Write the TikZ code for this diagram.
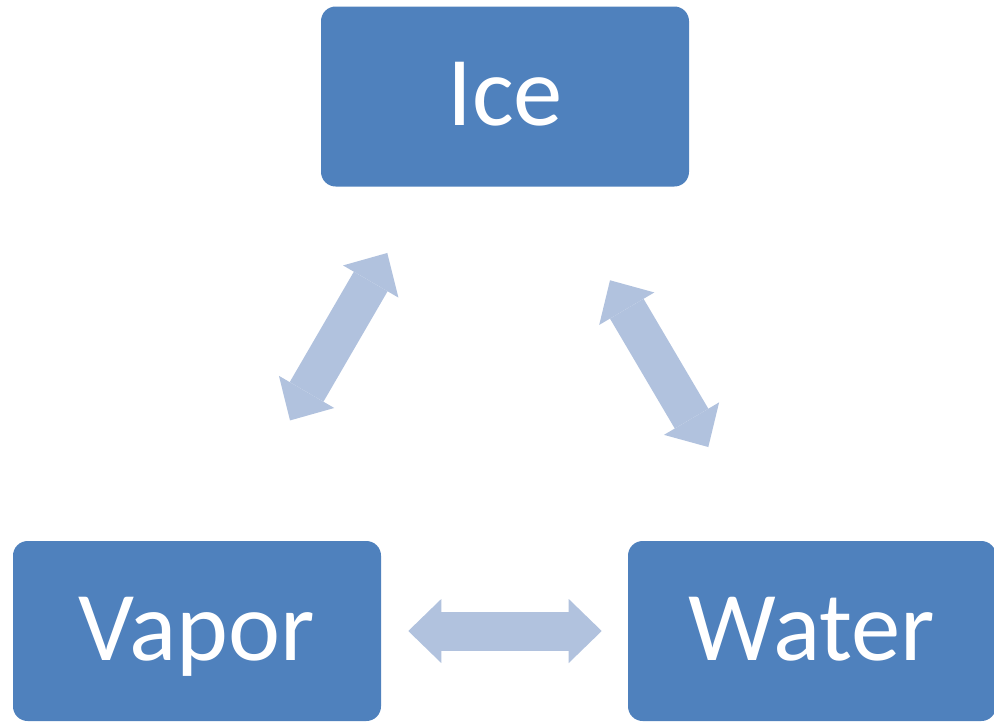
\documentclass[tikz,border=0pt]{standalone}
\usepackage{fontspec}
\setmainfont{Carlito}
\usetikzlibrary{arrows.meta}
\definecolor{boxblue}{HTML}{4F81BD}
\definecolor{arrowblue}{HTML}{B1C2DE}

\begin{document}
\begin{tikzpicture}[x=0.75pt,y=-0.75pt,
	phase/.style={fill=boxblue, rounded corners=11pt, minimum width=276pt,
		minimum height=135pt, text=white, font=\fontsize{74pt}{80pt}\selectfont,
		text height=48pt, text depth=4.5pt},
	flow/.style={draw=arrowblue, line width=29.25pt,
		{Triangle[width=48pt,length=24.75pt,line width=0pt]}-{Triangle[width=48pt,length=24.75pt,line width=0pt]}}]
	\useasboundingbox (0,0) rectangle (994,721);
	\node[phase] (ice) at (505,96.5) {Ice};
	\node[phase] (vapor) at (197,631) {Vapor};
	\node[phase] (water) at (812,631) {Water};
	%
	\draw [flow] ([shift={(-117.7,66.2)}]ice.south) to ([shift={(93,-120.3)}]vapor.north);
	\draw [flow] ([shift={(105,93.5)}]ice.south) to ([shift={(-103.7,-93.7)}]water.north);
	\draw [flow] ([shift={(27,0)}]vapor.east) to ([shift={(-26,0)}]water.west);
\end{tikzpicture}
\end{document}
